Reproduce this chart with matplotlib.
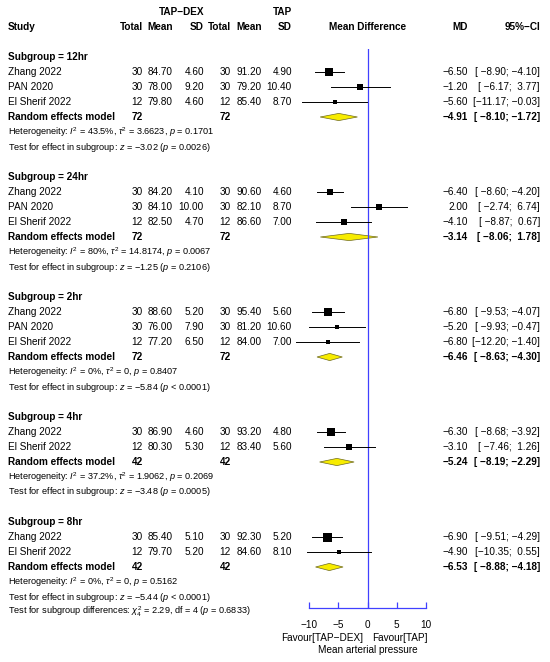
import numpy as np
import matplotlib.pyplot as plt
from matplotlib.patches import Polygon

plt.rcParams['font.family'] = ['Liberation Sans', 'DejaVu Sans']
plt.rcParams['mathtext.fontset'] = 'custom'
plt.rcParams['mathtext.rm'] = 'Liberation Sans'
plt.rcParams['mathtext.it'] = 'Liberation Sans:italic'
plt.rcParams['mathtext.bf'] = 'Liberation Sans:bold'

# study level data
subgroups = ['12hr', '24hr', '2hr', '4hr', '8hr']
group = ['12hr'] * 3 + ['24hr'] * 3 + ['2hr'] * 3 + ['4hr'] * 2 + ['8hr'] * 2
study = ['Zhang 2022', 'PAN 2020', 'El Sherif 2022',
         'Zhang 2022', 'PAN 2020', 'El Sherif 2022',
         'Zhang 2022', 'PAN 2020', 'El Sherif 2022',
         'Zhang 2022', 'El Sherif 2022',
         'Zhang 2022', 'El Sherif 2022']
n_e = [30, 30, 12, 30, 30, 12, 30, 30, 12, 30, 12, 30, 12]
mean_e = [84.70, 78.00, 79.80, 84.20, 84.10, 82.50, 88.60, 76.00, 77.20, 86.90, 80.30, 85.40, 79.70]
sd_e = [4.60, 9.20, 4.60, 4.10, 10.00, 4.70, 5.20, 7.90, 6.50, 4.60, 5.30, 5.10, 5.20]
n_c = [30, 30, 12, 30, 30, 12, 30, 30, 12, 30, 12, 30, 12]
mean_c = [91.20, 79.20, 85.40, 90.60, 82.10, 86.60, 95.40, 81.20, 84.00, 93.20, 83.40, 92.30, 84.60]
sd_c = [4.90, 10.40, 8.70, 4.60, 8.70, 7.00, 5.60, 10.60, 7.00, 4.80, 5.60, 5.20, 8.10]
md = [-6.50, -1.20, -5.60, -6.40, 2.00, -4.10, -6.80, -5.20, -6.80, -6.30, -3.10, -6.90, -4.90]
lo = [-8.90, -6.17, -11.17, -8.60, -2.74, -8.87, -9.53, -9.93, -12.20, -8.68, -7.46, -9.51, -10.35]
hi = [-4.10, 3.77, -0.03, -4.20, 6.74, 0.67, -4.07, -0.47, -1.40, -3.92, 1.26, -4.29, 0.55]
weight = [51, 26, 23, 39, 30, 31, 63, 21, 16, 67, 33, 81, 19]  # % within subgroup

# subgroup summaries
sub_n = [72, 72, 72, 42, 42]
sub_md = [-4.91, -3.14, -6.46, -5.24, -6.53]
sub_lo = [-8.10, -8.06, -8.63, -8.19, -8.88]
sub_hi = [-1.72, 1.78, -4.30, -2.29, -4.18]
het_i2 = ['43.5%', '80%', '0%', '37.2%', '0%']
het_tau2 = ['3.6623', '14.8174', '0', '1.9062', '0']
het_p = ['0.1701', '0.0067', '0.8407', '0.2069', '0.5162']
test_z = ['-3.02', '-1.25', '-5.84', '-3.48', '-5.44']
test_p = ['= 0.0026', '= 0.2106', '< 0.0001', '= 0.0005', '< 0.0001']

blue = '#4040ff'
fs = 7.2
fs_small = 6.6


def row_of(px):
    return (px - 57) / 15.0


def num(v, fmt='%.2f'):
    return (fmt % v).replace('-', '\u2212')


fig = plt.figure(figsize=(5.5, 6.62), dpi=100)
ax = fig.add_axes([0, 0, 1, 1])
ax.set_xlim(0, 550)
ax.set_ylim(row_of(662), row_of(0))
ax.axis('off')

# forest panel: x from -10 to 10
fx = fig.add_axes([309 / 550, (662 - 608) / 662, 117 / 550, (608 - 49) / 662])
fx.set_xlim(-10, 10)
fx.set_ylim(row_of(608), row_of(49))
fx.patch.set_visible(False)
for s in ['top', 'left', 'right']:
    fx.spines[s].set_visible(False)
fx.spines['bottom'].set_color(blue)
fx.spines['bottom'].set_linewidth(0.9)
fx.set_yticks([])
fx.set_xticks([-10, -5, 0, 5, 10])
fx.tick_params(axis='x', direction='in', length=4, width=0.9, color=blue,
               labelsize=fs, pad=9)
fx.axvline(0, color=blue, lw=0.9)

# columns (right edges, px)
col = dict(n_e=143, mean_e=173, sd_e=204, n_c=231, mean_c=262, sd_c=292, md=468, ci=540)

# headers
hdr = row_of(27)
ax.text(204, row_of(12), 'TAP\u2212DEX', ha='right', va='center', fontsize=fs, fontweight='bold')
ax.text(292, row_of(12), 'TAP', ha='right', va='center', fontsize=fs, fontweight='bold')
ax.text(8, hdr, 'Study', ha='left', va='center', fontsize=fs, fontweight='bold')
for key, lab in [('n_e', 'Total'), ('mean_e', 'Mean'), ('sd_e', 'SD'),
                 ('n_c', 'Total'), ('mean_c', 'Mean'), ('sd_c', 'SD'),
                 ('md', 'MD'), ('ci', '95%\u2212CI')]:
    ax.text(col[key], hdr, lab, ha='right', va='center', fontsize=fs, fontweight='bold')
fx.text(0, hdr, 'Mean Difference', ha='center', va='center', fontsize=fs,
        fontweight='bold', clip_on=False)


def ci_text(a, b):
    return '[' + num(a, '%6.2f') + '; ' + num(b, '%5.2f') + ']'


row = 0
for g, name in enumerate(subgroups):
    ax.text(8, row, 'Subgroup = ' + name, ha='left', va='center', fontsize=fs, fontweight='bold')
    row += 1
    for i in range(len(study)):
        if group[i] != name:
            continue
        ax.text(8, row, study[i], ha='left', va='center', fontsize=fs)
        ax.text(col['n_e'], row, str(n_e[i]), ha='right', va='center', fontsize=fs)
        ax.text(col['mean_e'], row, num(mean_e[i]), ha='right', va='center', fontsize=fs)
        ax.text(col['sd_e'], row, num(sd_e[i]), ha='right', va='center', fontsize=fs)
        ax.text(col['n_c'], row, str(n_c[i]), ha='right', va='center', fontsize=fs)
        ax.text(col['mean_c'], row, num(mean_c[i]), ha='right', va='center', fontsize=fs)
        ax.text(col['sd_c'], row, num(sd_c[i]), ha='right', va='center', fontsize=fs)
        ax.text(col['md'], row, num(md[i]), ha='right', va='center', fontsize=fs)
        ax.text(col['ci'], row, ci_text(lo[i], hi[i]), ha='right', va='center', fontsize=fs)
        fx.plot([lo[i], hi[i]], [row, row], color='black', lw=0.7, clip_on=False)
        side = 10 * np.sqrt(weight[i] / 100.0) * 0.72
        fx.plot(md[i], row, 's', ms=side, color='black', mec='black', mew=0, clip_on=False)
        row += 1
    # random effects model
    ax.text(8, row, 'Random effects model', ha='left', va='center', fontsize=fs, fontweight='bold')
    ax.text(col['n_e'], row, str(sub_n[g]), ha='right', va='center', fontsize=fs, fontweight='bold')
    ax.text(col['n_c'], row, str(sub_n[g]), ha='right', va='center', fontsize=fs, fontweight='bold')
    ax.text(col['md'], row, num(sub_md[g]), ha='right', va='center', fontsize=fs, fontweight='bold')
    ax.text(col['ci'], row, ci_text(sub_lo[g], sub_hi[g]), ha='right', va='center',
            fontsize=fs, fontweight='bold')
    dia = Polygon([[sub_lo[g], row], [sub_md[g], row - 0.24], [sub_hi[g], row],
                   [sub_md[g], row + 0.24]], closed=True, facecolor='#f7ec00',
                  edgecolor='#6e6a20', lw=0.5, clip_on=False)
    fx.add_patch(dia)
    row += 1
    ax.text(8, row, 'Heterogeneity: $I^2$ = %s, $\\tau^2$ = %s, $p$ = %s'
            % (het_i2[g], het_tau2[g], het_p[g]), ha='left', va='center', fontsize=fs_small)
    row += 1
    ax.text(8, row, 'Test for effect in subgroup: $z$ = %s ($p$ %s)'
            % (test_z[g].replace('-', '\u2212'), test_p[g]), ha='left', va='center',
            fontsize=fs_small)
    row += 1
    if g < len(subgroups) - 1:
        row += 1

ax.text(8, row, 'Test for subgroup differences: $\\chi^2_4$ = 2.29, df = 4 ($p$ = 0.6833)',
        ha='left', va='center', fontsize=fs_small)

fx.text(-0.75, row_of(638), 'Favour[TAP\u2212DEX]', ha='right', va='center', fontsize=fs, clip_on=False)
fx.text(0.75, row_of(638), 'Favour[TAP]', ha='left', va='center', fontsize=fs, clip_on=False)
fx.text(0, row_of(650), 'Mean arterial pressure', ha='center', va='center', fontsize=fs, clip_on=False)

fig.savefig('out.png', dpi=100)
